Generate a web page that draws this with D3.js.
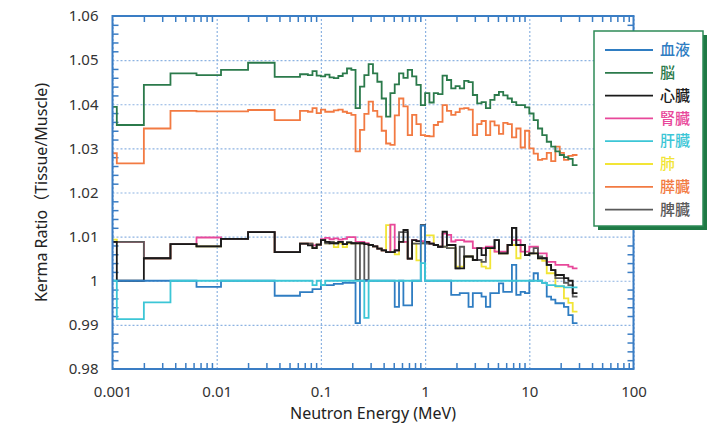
<!doctype html>
<html>
<head>
<meta charset="utf-8">
<style>
  body { margin: 0; background: #fff; }
  text { font-family: "Noto Sans", "Noto Sans CJK JP", sans-serif; fill: #333; }
  .grid line { stroke: #8db3e2; stroke-dasharray: 2,2; stroke-width: 1.2; }
  .grid path, .minor path, .labels path { display: none; }
  .minor line { stroke: #3a7dc4; stroke-width: 1.5; }
  .labels line { display: none; }
  .frame { fill: none; stroke: #3a7dc4; stroke-width: 2; }
  .curve { fill: none; stroke-width: 1.8; }
  .legend text { font-family: "Noto Sans CJK JP", sans-serif; font-size: 15px; font-weight: 500; }
</style>
<script src="https://d3js.org/d3.v7.min.js"></script>
</head>
<body>
<svg width="719" height="430"></svg>
<script>
  // energy group edges (MeV): bin starts, last value is the upper end
  var energy = [0.001, 0.0011, 0.002, 0.0036, 0.0064, 0.011, 0.02, 0.036,
    0.063, 0.068, 0.075, 0.083, 0.091,
    0.1, 0.11, 0.121, 0.133, 0.147, 0.162, 0.178, 0.196, 0.215, 0.237, 0.261, 0.287,
    0.316, 0.348, 0.383, 0.422, 0.464, 0.511, 0.562, 0.619, 0.681, 0.75, 0.825, 0.909,
    1, 1.1, 1.21, 1.33, 1.47, 1.62, 1.78, 1.96, 2.15, 2.37, 2.61, 2.87,
    3.16, 3.48, 3.83, 4.22, 4.64, 5.11, 5.62, 6.19, 6.81, 7.5, 8.25, 9.09,
    10, 11, 12.1, 13.3, 14.7, 16.2, 17.8, 19.6, 21.5, 23.7, 26.1, 29];

  var blood = [1.0, 1.0, 1.0, 1.0, 0.9986, 1.0, 1.0, 0.9966,
    0.9974, 0.9974, 0.9974, 0.9981, 0.9981, 0.999, 0.999, 0.999, 0.9993, 0.9993,
    0.9995, 0.9995, 0.9995, 0.9904, 1.0, 1.0, 1.0, 1.0, 1.0, 1.0,
    1.0, 1.0, 0.9941, 1.0, 0.9944, 0.9944, 1.0, 1.0, 1.0125, 1.0,
    1.0, 1.0, 1.0, 1.0, 1.0, 0.9968, 0.9968, 0.9972, 0.9972, 0.9941,
    0.9972, 0.9972, 0.9964, 0.9941, 0.9972, 0.9972, 0.9994, 0.9975, 0.9975, 1.0036,
    0.9968, 0.9975, 0.9972, 1.0, 1.0017, 1.0, 0.9995, 0.9964, 0.9957, 0.9949,
    0.9949, 0.9941, 0.9922, 0.9904];

  var brain = [1.0394, 1.0353, 1.0444, 1.047, 1.0466, 1.0478, 1.0494, 1.0462,
    1.0468, 1.0468, 1.0466, 1.0475, 1.0465, 1.0463, 1.0467, 1.0461, 1.0459, 1.0464,
    1.047, 1.0481, 1.0478, 1.0391, 1.044, 1.0466, 1.0491, 1.047, 1.0451, 1.0413,
    1.0372, 1.0425, 1.0445, 1.047, 1.046, 1.0478, 1.0463, 1.0444, 1.0398, 1.0425,
    1.0404, 1.0425, 1.0423, 1.0465, 1.0455, 1.0436, 1.0441, 1.0436, 1.0453, 1.045,
    1.0421, 1.0402, 1.0405, 1.0391, 1.041, 1.0421, 1.0428, 1.042, 1.0413, 1.0405,
    1.0398, 1.0398, 1.0393, 1.0379, 1.0364, 1.0345, 1.033, 1.0315, 1.0304, 1.0293,
    1.0285, 1.028, 1.0276, 1.0262];

  var heart = [1.0088, 1.0, 1.0051, 1.0083, 1.0078, 1.0095, 1.011, 1.0065,
    1.0084, 1.0084, 1.008, 1.0074, 1.0082, 1.0092, 1.0088, 1.0085, 1.0085, 1.0088,
    1.0083, 1.0087, 1.0085, 1.0085, 1.0085, 1.0083, 1.0081, 1.0078, 1.0073, 1.0069,
    1.0065, 1.0065, 1.0069, 1.0088, 1.0115, 1.005, 1.0092, 1.009, 1.0126, 1.0088,
    1.0084, 1.0081, 1.0077, 1.0111, 1.0081, 1.0081, 1.0028, 1.0028, 1.0055, 1.0055,
    1.0047, 1.0074, 1.0058, 1.0074, 1.0074, 1.0092, 1.0062, 1.0062, 1.0081, 1.012,
    1.0081, 1.0081, 1.0058, 1.0062, 1.0062, 1.0051, 1.0051, 1.0036, 1.0024, 1.0013,
    1.0013, 1.0006, 1.0, 0.9972];

  var kidney = [1.0088, 1.0088, 1.0051, 1.0083, 1.0098, 1.0095, 1.011, 1.0065,
    1.0084, 1.0084, 1.0084, 1.008, 1.0082, 1.0094, 1.0097, 1.0094, 1.0096, 1.0093,
    1.0095, 1.0099, 1.0099, 1.0088, 1.0088, 1.0085, 1.0081, 1.0078, 1.0073, 1.0069,
    1.0065, 1.0127, 1.0069, 1.0088, 1.0088, 1.005, 1.0092, 1.009, 1.009, 1.0088,
    1.0084, 1.0081, 1.0077, 1.0107, 1.0104, 1.0089, 1.0092, 1.0092, 1.0089, 1.0089,
    1.0074, 1.0074, 1.0074, 1.0077, 1.0077, 1.0066, 1.0066, 1.0066, 1.0081, 1.0092,
    1.0092, 1.0066, 1.0066, 1.0077, 1.0077, 1.0062, 1.0062, 1.0043, 1.0043, 1.0036,
    1.0036, 1.0036, 1.0032, 1.0028];

  var liver = [1.0, 0.9913, 0.9951, 1.0, 1.0, 1.0, 1.0, 1.0,
    1.0, 1.0, 1.0, 0.999, 1.0, 0.999, 1.0, 1.0, 1.0, 1.0,
    1.0, 1.0, 1.0, 1.0, 1.0, 0.9916, 1.0, 1.0, 1.0, 1.0,
    1.0, 1.0, 1.0, 1.0, 1.0, 1.0, 1.0, 1.0, 1.004, 1.0,
    1.0, 1.0, 1.0, 1.0, 1.0, 1.0, 1.0, 1.0, 1.0, 1.0,
    1.0, 1.0, 1.0, 1.0, 1.0, 1.0, 1.0, 1.0, 1.0, 1.0,
    1.0, 1.0, 1.0, 1.0, 1.0, 1.0, 0.9995, 0.999, 0.999, 0.9988,
    0.9988, 0.9985, 0.9985, 0.9985];

  var lung = [1.0093, 1.0088, 1.0051, 1.0083, 1.0078, 1.0095, 1.011, 1.0065,
    1.0084, 1.0084, 1.0084, 1.0074, 1.0082, 1.0092, 1.0085, 1.0088, 1.0076, 1.0085,
    1.0076, 1.0085, 1.0085, 1.0085, 1.0085, 1.0083, 1.0081, 1.0078, 1.0073, 1.0069,
    1.0126, 1.0065, 1.006, 1.0088, 1.0088, 1.005, 1.0084, 1.0046, 1.0085, 1.0103,
    1.0103, 1.0081, 1.0077, 1.0077, 1.0074, 1.0074, 1.0032, 1.0032, 1.0055, 1.0055,
    1.0047, 1.0047, 1.0032, 1.0028, 1.0074, 1.0066, 1.0062, 1.0062, 1.0081, 1.0081,
    1.0051, 1.0081, 1.0058, 1.0062, 1.0062, 1.0051, 1.0045, 1.0017, 1.0017, 0.9987,
    0.9987, 0.996, 0.995, 0.993];

  var pancreas = [1.0289, 1.0266, 1.0345, 1.0385, 1.0384, 1.0384, 1.0387, 1.0364,
    1.0385, 1.0385, 1.0383, 1.0391, 1.038, 1.0388, 1.0383, 1.0383, 1.0386, 1.0388,
    1.0383, 1.038, 1.0376, 1.0293, 1.0342, 1.0378, 1.0406, 1.0385, 1.0372, 1.034,
    1.0311, 1.0308, 1.0375, 1.0413, 1.0395, 1.033, 1.0376, 1.0355, 1.033, 1.0328,
    1.0327, 1.0353, 1.036, 1.0398, 1.0385, 1.0376, 1.0382, 1.039, 1.0391, 1.0388,
    1.033, 1.0355, 1.0362, 1.033, 1.0361, 1.0352, 1.0333, 1.0358, 1.0355, 1.0325,
    1.0345, 1.0302, 1.034, 1.03, 1.0288, 1.0274, 1.0276, 1.029, 1.0271, 1.0304,
    1.029, 1.0274, 1.0283, 1.0285];

  var spleen = [1.0088, 1.0088, 1.0051, 1.0083, 1.0078, 1.0095, 1.011, 1.0065,
    1.0084, 1.0084, 1.0084, 1.0074, 1.0082, 1.0092, 1.0085, 1.0088, 1.0085, 1.0088,
    1.0083, 1.0087, 1.0085, 1.0002, 1.0085, 1.0002, 1.0081, 1.0078, 1.0073, 1.0069,
    1.0065, 1.0065, 1.0069, 1.011, 1.011, 1.005, 1.0084, 1.0084, 1.0085, 1.0084,
    1.0084, 1.0081, 1.0077, 1.0077, 1.0074, 1.0074, 1.0028, 1.0077, 1.0055, 1.0055,
    1.0047, 1.0047, 1.0043, 1.0074, 1.0074, 1.0092, 1.0062, 1.0062, 1.0081, 1.012,
    1.0081, 1.0081, 1.0058, 1.0062, 1.0074, 1.0055, 1.0051, 1.0036, 1.0024, 1.0006,
    1.0006, 0.9995, 0.999, 0.9964];

  var legendNames = ["血液", "脳", "心臓", "腎臓", "肝臓", "肺", "膵臓", "脾臓"];
  var legendColors = ["#2f7dc2", "#2b7a4b", "#1a1a1a", "#e8489a", "#3cc6d6", "#f2e536", "#f27a42", "#5a5a5a"];
  var legendData = [blood, brain, heart, kidney, liver, lung, pancreas, spleen];
  var drawOrder = [5, 3, 7, 2, 0, 4, 6, 1];

  var xTicks = [0.001, 0.01, 0.1, 1, 10, 100];
  var xTickLabels = ["0.001", "0.01", "0.1", "1", "10", "100"];
  var yTicks = [0.98, 0.99, 1, 1.01, 1.02, 1.03, 1.04, 1.05, 1.06];
  var yTickLabels = ["0.98", "0.99", "1", "1.01", "1.02", "1.03", "1.04", "1.05", "1.06"];

  var svg = d3.select("svg"),
    plotLeft = 112.5, plotRight = 633.5, plotTop = 16, plotBottom = 369;

  var x = d3.scaleLog().domain([0.001, 100]).range([plotLeft, plotRight]);
  var y = d3.scaleLinear().domain([0.98, 1.06]).range([plotBottom, plotTop]);

  var minorX = [];
  [0.001, 0.01, 0.1, 1, 10].forEach(function (d) {
    for (var k = 2; k < 10; k++) minorX.push(d * k);
  });
  var minorY = [];
  for (var i = 0; i <= 40; i++) {
    if (i % 5 !== 0) minorY.push(0.98 + i * 0.002);
  }

  // dashed grid at the major ticks
  svg.append("g").attr("class", "grid")
    .attr("transform", "translate(0," + plotBottom + ")")
    .call(d3.axisBottom(x).tickValues(xTicks).tickSize(-(plotBottom - plotTop)).tickFormat(""));
  svg.append("g").attr("class", "grid")
    .attr("transform", "translate(" + plotLeft + ",0)")
    .call(d3.axisLeft(y).tickValues(yTicks).tickSize(-(plotRight - plotLeft)).tickFormat(""));

  // inward minor ticks on all four sides
  svg.append("g").attr("class", "minor")
    .attr("transform", "translate(0," + plotBottom + ")")
    .call(d3.axisBottom(x).tickValues(minorX).tickSize(-6).tickFormat(""));
  svg.append("g").attr("class", "minor")
    .attr("transform", "translate(0," + plotTop + ")")
    .call(d3.axisTop(x).tickValues(minorX).tickSize(-6).tickFormat(""));
  svg.append("g").attr("class", "minor")
    .attr("transform", "translate(" + plotLeft + ",0)")
    .call(d3.axisLeft(y).tickValues(minorY).tickSize(-6).tickFormat(""));
  svg.append("g").attr("class", "minor")
    .attr("transform", "translate(" + plotRight + ",0)")
    .call(d3.axisRight(y).tickValues(minorY).tickSize(-6).tickFormat(""));

  // tick labels
  svg.append("g").attr("class", "labels")
    .attr("transform", "translate(0," + plotBottom + ")")
    .call(d3.axisBottom(x).tickValues(xTicks).tickSize(0).tickPadding(17)
      .tickFormat(function (d, i) { return xTickLabels[i]; }))
    .selectAll("text").style("font-size", "15px").attr("fill", "#333");
  svg.append("g").attr("class", "labels")
    .attr("transform", "translate(" + plotLeft + ",0)")
    .call(d3.axisLeft(y).tickValues(yTicks).tickSize(0).tickPadding(14)
      .tickFormat(function (d, i) { return yTickLabels[i]; }))
    .selectAll("text").style("font-size", "15px").attr("fill", "#333");

  // step lines
  var line = d3.line()
    .x(function (d) { return x(d[0]); })
    .y(function (d) { return y(d[1]); })
    .curve(d3.curveStepAfter);

  drawOrder.forEach(function (s) {
    var vals = legendData[s];
    var pts = vals.map(function (v, i) { return [energy[i], v]; });
    pts.push([energy[energy.length - 1], vals[vals.length - 1]]);
    svg.append("path")
      .attr("class", "curve")
      .attr("d", line(pts))
      .attr("stroke", legendColors[s]);
  });

  svg.append("rect").attr("class", "frame")
    .attr("x", plotLeft).attr("y", plotTop)
    .attr("width", plotRight - plotLeft).attr("height", plotBottom - plotTop);

  // axis titles
  svg.append("text")
    .attr("x", (plotLeft + plotRight) / 2).attr("y", 419)
    .attr("text-anchor", "middle")
    .style("font-size", "16px").style("fill", "#222")
    .text("Neutron Energy (MeV)");
  svg.append("text")
    .attr("transform", "translate(47," + (plotTop + plotBottom) / 2 + ") rotate(-90)")
    .attr("text-anchor", "middle")
    .style("font-size", "16px").style("fill", "#222")
    .text("Kerma Ratio（Tissue/Muscle)");

  // legend
  var lg = svg.append("g").attr("class", "legend");
  lg.append("rect")
    .attr("x", 598).attr("y", 35).attr("width", 109).attr("height", 195)
    .attr("fill", "#1f7a45");
  lg.append("rect")
    .attr("x", 594).attr("y", 31).attr("width", 109).attr("height", 195)
    .attr("fill", "#fff").attr("stroke", "#2e8b57").attr("stroke-width", 1.5);

  var item = lg.selectAll(".item")
    .data(legendNames)
    .enter().append("g")
    .attr("class", "item")
    .attr("transform", function (d, i) { return "translate(0," + (50 + i * 22.8) + ")"; });
  item.append("line")
    .attr("x1", 605).attr("x2", 653)
    .attr("stroke", function (d, i) { return legendColors[i]; })
    .attr("stroke-width", 1.8);
  item.append("text")
    .attr("x", 660).attr("dy", "0.35em")
    .style("fill", function (d, i) { return legendColors[i]; })
    .text(function (d) { return d; });
</script>
</body>
</html>
